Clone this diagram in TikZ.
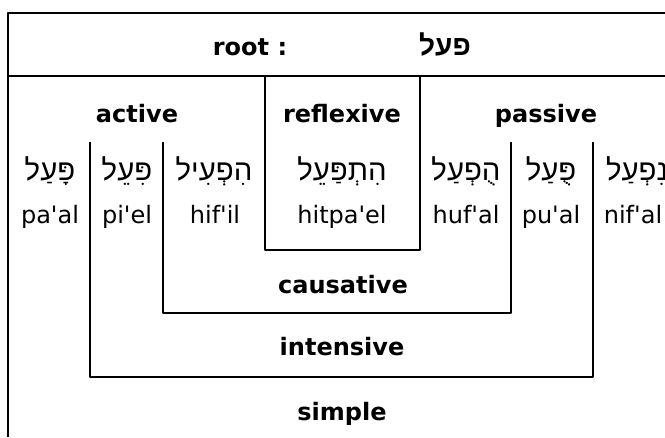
\documentclass[tikz,border=0pt]{standalone}
\usepackage{fontspec}
\setmainfont{DejaVu Sans}
\newfontfamily\hebfont[Script=Hebrew]{Liberation Sans}
\TeXXeTstate=1
\newcommand{\apos}{\textquotesingle}
\tikzset{
  frame/.style={line width=2.1pt, line join=round, line cap=butt},
  grp/.style={font=\bfseries\fontsize{18}{20}\selectfont, anchor=base, inner sep=0pt},
  translit/.style={font=\fontsize{18}{20}\selectfont, anchor=base, inner sep=0pt},
  heb/.style={font=\hebfont\fontsize{22}{24}\selectfont, anchor=base, inner sep=0pt},
}
\begin{document}
\begin{tikzpicture}[x=0.75pt,y=-0.75pt]
  \useasboundingbox (0,0) rectangle (665,437);

  % outer frame (open to the right and below) and root divider
  \draw[frame] (8,437) -- (8,13) -- (665,13);
  \draw[frame] (8,76) -- (665,76);

  % reflexive box hanging from the divider
  \draw[frame] (265,76) -- (265,250) -- (420,250) -- (420,76);
  % causative and intensive brackets
  \draw[frame] (163,142) -- (163,313) -- (511,313) -- (511,142);
  \draw[frame] (90,142) -- (90,377) -- (593,377) -- (593,142);

  % root
  \node[grp] (root) at (250,55) {root :};
  \node[heb, font=\hebfont\bfseries\fontsize{21}{23}\selectfont] (rootheb) at (445,55) {\beginR פעל\endR};

  % group labels
  \node[grp] (active) at (137,122) {active};
  \node[grp] (reflexive) at (342,122) {reflexive};
  \node[grp] (passive) at (546,122) {passive};
  \node[grp] (causative) at (343,293) {causative};
  \node[grp] (intensive) at (342,355) {intensive};
  \node[grp] (simple) at (342,420) {simple};

  % binyanim in Hebrew
  \node[heb] (hpaal) at (50,180) {\beginR פָּעַל\endR};
  \node[heb] (hpiel) at (127,180) {\beginR פִּעֵל\endR};
  \node[heb] (hhifil) at (214,180) {\beginR הִפְעִיל\endR};
  \node[heb] (hhitpael) at (342,180) {\beginR הִתְפַּעֵל\endR};
  \node[heb] (hhufal) at (466,180) {\beginR הֻפְעַל\endR};
  \node[heb] (hpual) at (551,180) {\beginR פֻּעַל\endR};
  \node[heb] (hnifal) at (637,180) {\beginR נִפְעַל\endR};

  % transliterations
  \node[translit] (paal) at (50,223) {pa\apos al};
  \node[translit] (piel) at (127,223) {pi\apos el};
  \node[translit] (hifil) at (215,223) {hif\apos il};
  \node[translit] (hitpael) at (342,223) {hitpa\apos el};
  \node[translit] (hufal) at (466,223) {huf\apos al};
  \node[translit] (pual) at (551,223) {pu\apos al};
  \node[translit] (nifal) at (633,223) {nif\apos al};
\end{tikzpicture}
\end{document}
